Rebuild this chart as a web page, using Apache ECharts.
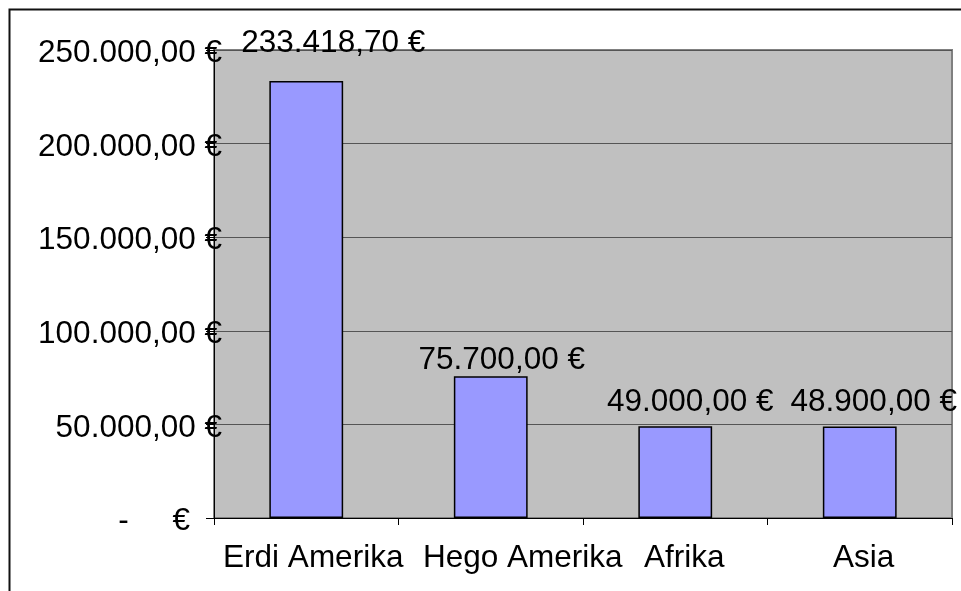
<!DOCTYPE html>
<html>
<head>
<meta charset="utf-8">
<script src="https://cdn.jsdelivr.net/npm/echarts@6/dist/echarts.min.js"></script>
<style>html,body{margin:0;padding:0;background:#fff}#c{width:961px;height:591px}</style>
</head>
<body>
<div id="c"></div>
<script>
const categories = ['Erdi Amerika', 'Hego Amerika', 'Afrika', 'Asia'];
const values = [233418.70, 75700.00, 49000.00, 48900.00];
const yTicks = [0, 50000, 100000, 150000, 200000, 250000];

function fmtEUR(v) {
  const parts = v.toFixed(2).split('.');
  const intPart = parts[0].replace(/\B(?=(\d{3})+(?!\d))/g, '.');
  return intPart + ',' + parts[1] + ' €';
}

const FONT = "'Liberation Sans', Arial, sans-serif";
const FS = 31.5;

// per-bar label placement (Excel places them slightly right)
const labelDist = [22, 0, 8, 8];
const labelDx = [27, 11, 15, 14];
const xPad = [14, 64, 18, 8];

const chart = echarts.init(document.getElementById('c'), null, {renderer: 'canvas'});
chart.setOption({
  animation: false,
  backgroundColor: '#ffffff',
  graphic: [{
    type: 'rect', left: 7, top: 7, silent: true, z: 100,
    shape: {x: 0, y: 0, width: 1200, height: 1200},
    style: {fill: 'none', stroke: '#111', lineWidth: 2}
  }],
  grid: {
    left: 214, top: 50, right: 9, bottom: 73,
    show: true, backgroundColor: '#C0C0C0', borderColor: '#808080', borderWidth: 2
  },
  xAxis: {
    type: 'category',
    data: categories,
    axisLine: {show: true, lineStyle: {color: '#000', width: 1}},
    axisTick: {show: true, length: 7, lineStyle: {color: '#000'}},
    axisLabel: {
      margin: 22,
      color: '#000', fontFamily: FONT, fontSize: FS,
      interval: 0,
      formatter: function (v, i) { return '{r' + i + '|' + v + '}'; },
      rich: {
        r0: {padding: [2, 0, 0, xPad[0]], fontFamily: FONT, fontSize: FS, color: '#000'},
        r1: {padding: [2, 0, 0, xPad[1]], fontFamily: FONT, fontSize: FS, color: '#000'},
        r2: {padding: [2, 0, 0, xPad[2]], fontFamily: FONT, fontSize: FS, color: '#000'},
        r3: {padding: [2, 0, 0, xPad[3]], fontFamily: FONT, fontSize: FS, color: '#000'}
      }
    },
    splitLine: {show: false}
  },
  yAxis: {
    type: 'value',
    min: yTicks[0], max: yTicks[yTicks.length - 1], interval: 50000,
    axisLine: {show: true, lineStyle: {color: '#000', width: 1}},
    axisTick: {show: true, length: 8, lineStyle: {color: '#000'}},
    splitLine: {show: true, lineStyle: {color: '#555', width: 1}},
    axisLabel: {
      margin: -8,
      color: '#000', fontFamily: FONT, fontSize: FS,
      formatter: function (v) {
        if (v === 0) return '{z|-     €}';
        return '{p|' + fmtEUR(v) + '}';
      },
      rich: {
        p: {padding: [7, 0, 0, 0], fontFamily: FONT, fontSize: FS, color: '#000'},
        z: {padding: [7, 32, 0, 0], fontFamily: FONT, fontSize: FS, color: '#000'}
      }
    }
  },
  series: [{
    type: 'bar',
    barWidth: '40%',
    data: values.map(function (v, i) {
      return {
        value: v,
        label: {distance: labelDist[i], offset: [labelDx[i], 0]}
      };
    }),
    itemStyle: {color: '#9999FF', borderColor: '#000', borderWidth: 1.5},
    label: {
      show: true, position: 'top',
      color: '#000', fontFamily: FONT, fontSize: FS,
      formatter: function (p) { return fmtEUR(p.value); }
    }
  }]
});
</script>
</body>
</html>
